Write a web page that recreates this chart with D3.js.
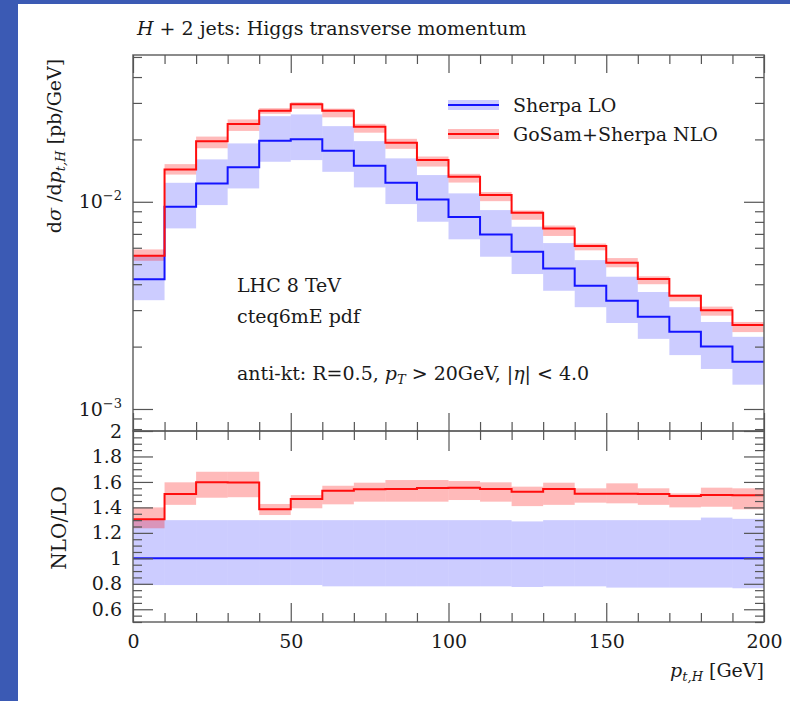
<!DOCTYPE html>
<html>
<head>
<meta charset="utf-8">
<script src="https://cdn.jsdelivr.net/npm/d3@7"></script>
<style>
  body { margin: 0; background: #fff; }
  svg text { font-family: "DejaVu Serif", serif; fill: #1a1a1a; }
</style>
</head>
<body>
<div id="chart"></div>
<script>
// bins of p_t,H [GeV]
const binLow  = [0, 10, 20, 30, 40, 50, 60, 70, 80, 90, 100, 110, 120, 130, 140, 150, 160, 170, 180, 190];
const binHigh = [10, 20, 30, 40, 50, 60, 70, 80, 90, 100, 110, 120, 130, 140, 150, 160, 170, 180, 190, 200];

// upper panel, dsigma/dpt [pb/GeV]
const loCentral  = [0.00423, 0.00946, 0.01227, 0.01466, 0.01968, 0.02006, 0.01762, 0.01492, 0.01235, 0.01027, 0.00844, 0.00696, 0.00574, 0.00477, 0.00393, 0.00333, 0.00279, 0.00236, 0.00200, 0.00169];
const loHigh     = [0.00550, 0.01235, 0.01602, 0.01913, 0.02590, 0.02640, 0.02318, 0.01962, 0.01620, 0.01346, 0.01098, 0.00912, 0.00758, 0.00632, 0.00523, 0.00435, 0.00367, 0.00310, 0.00263, 0.00223];
const loLow      = [0.00335, 0.00744, 0.00964, 0.01160, 0.01560, 0.01589, 0.01395, 0.01173, 0.00975, 0.00801, 0.00659, 0.00543, 0.00448, 0.00372, 0.00310, 0.00260, 0.00218, 0.00182, 0.00156, 0.00131];
const nloCentral = [0.00549, 0.01433, 0.01962, 0.02371, 0.02748, 0.02960, 0.02748, 0.02300, 0.01926, 0.01589, 0.01320, 0.01077, 0.00885, 0.00744, 0.00611, 0.00508, 0.00424, 0.00352, 0.00300, 0.00254];
const nloHigh    = [0.00589, 0.01520, 0.02064, 0.02497, 0.02831, 0.03022, 0.02817, 0.02378, 0.02013, 0.01654, 0.01364, 0.01114, 0.00908, 0.00768, 0.00629, 0.00535, 0.00437, 0.00357, 0.00312, 0.00263];
const nloLow     = [0.00519, 0.01353, 0.01813, 0.02198, 0.02659, 0.02812, 0.02556, 0.02155, 0.01801, 0.01479, 0.01238, 0.01007, 0.00819, 0.00684, 0.00583, 0.00483, 0.00400, 0.00331, 0.00282, 0.00235];

// lower panel, NLO/LO
const ratioLo      = [1, 1, 1, 1, 1, 1, 1, 1, 1, 1, 1, 1, 1, 1, 1, 1, 1, 1, 1, 1];
const ratioLoHigh  = [1.30, 1.30, 1.30, 1.30, 1.30, 1.30, 1.30, 1.30, 1.30, 1.30, 1.30, 1.30, 1.29, 1.30, 1.30, 1.30, 1.30, 1.30, 1.32, 1.31];
const ratioLoLow   = [0.79, 0.79, 0.79, 0.79, 0.79, 0.79, 0.78, 0.78, 0.78, 0.78, 0.78, 0.78, 0.775, 0.78, 0.78, 0.77, 0.77, 0.77, 0.77, 0.765];
const ratioNlo     = [1.306, 1.505, 1.597, 1.595, 1.385, 1.466, 1.531, 1.542, 1.545, 1.552, 1.555, 1.545, 1.523, 1.545, 1.507, 1.507, 1.505, 1.489, 1.497, 1.495];
const ratioNloHigh = [1.40, 1.597, 1.68, 1.68, 1.427, 1.497, 1.57, 1.594, 1.615, 1.615, 1.607, 1.597, 1.563, 1.594, 1.55, 1.589, 1.55, 1.51, 1.555, 1.55];
const ratioNloLow  = [1.236, 1.42, 1.476, 1.48, 1.34, 1.393, 1.424, 1.445, 1.445, 1.445, 1.458, 1.445, 1.41, 1.42, 1.437, 1.432, 1.42, 1.40, 1.405, 1.385];

// ticks
const xMajor = [0, 50, 100, 150, 200];
const xMajorLabels = ["0", "50", "100", "150", "200"];
const upperMajor = [1e-3, 1e-2];
const upperMajorExp = ["\u22123", "\u22122"];
const upperMinor = [8e-4, 9e-4, 2e-3, 3e-3, 4e-3, 5e-3, 6e-3, 7e-3, 8e-3, 9e-3, 2e-2, 3e-2, 4e-2, 5e-2];
const ratioMajor = [0.6, 0.8, 1, 1.2, 1.4, 1.6, 1.8, 2];
const ratioMajorLabels = ["0.6", "0.8", "1", "1.2", "1.4", "1.6", "1.8", "2"];

const blue = "#1414ff", red = "#ff0d0d";
const blueBand = "rgba(0,0,255,0.2)", redBand = "rgba(255,0,0,0.27)";

const pLeft = 133, pRight = 764, pTop = 55, pMid = 431, pBottom = 622;

const svg = d3.select("#chart").append("svg")
  .attr("width", 790)
  .attr("height", 701);

svg.append("rect").attr("width", 790).attr("height", 701).attr("fill", "#fff");
svg.append("rect").attr("width", 18).attr("height", 701).attr("fill", "#3b5ab4");
svg.append("rect").attr("width", 790).attr("height", 4).attr("fill", "#3b5ab4");

const x = d3.scaleLinear().domain([0, 200]).range([pLeft, pRight]);
const yUp = d3.scaleLog().domain([7.83e-4, 0.0511]).range([pMid, pTop]);
const yRat = d3.scaleLinear().domain([0.5, 2]).range([pBottom, pMid]);

const bins = binLow.map((lo, i) => ({
  lo: lo, hi: binHigh[i],
  lo_c: loCentral[i], lo_h: loHigh[i], lo_l: loLow[i],
  nlo_c: nloCentral[i], nlo_h: nloHigh[i], nlo_l: nloLow[i],
  r_lo: ratioLo[i], r_lo_h: ratioLoHigh[i], r_lo_l: ratioLoLow[i],
  r_nlo: ratioNlo[i], r_nlo_h: ratioNloHigh[i], r_nlo_l: ratioNloLow[i]
}));

function bands(yScale, hiKey, loKey, fill) {
  svg.append("g").selectAll("rect")
    .data(bins)
    .enter()
    .append("rect")
    .attr("x", d => x(d.lo))
    .attr("width", d => x(d.hi) - x(d.lo))
    .attr("y", d => yScale(d[hiKey]))
    .attr("height", d => yScale(d[loKey]) - yScale(d[hiKey]))
    .attr("fill", fill);
}

function steps(yScale, key, color) {
  const pts = [];
  bins.forEach(d => { pts.push([d.lo, d[key]]); pts.push([d.hi, d[key]]); });
  svg.append("path")
    .attr("d", d3.line().x(p => x(p[0])).y(p => yScale(p[1]))(pts))
    .attr("fill", "none")
    .attr("stroke", color)
    .attr("stroke-width", 2);
}

// upper panel
bands(yUp, "lo_h", "lo_l", blueBand);
bands(yUp, "nlo_h", "nlo_l", redBand);
steps(yUp, "lo_c", blue);
steps(yUp, "nlo_c", red);

// lower panel
bands(yRat, "r_lo_h", "r_lo_l", blueBand);
bands(yRat, "r_nlo_h", "r_nlo_l", redBand);
steps(yRat, "r_lo", blue);
steps(yRat, "r_nlo", red);

// frames
svg.append("rect").attr("x", pLeft).attr("y", pTop).attr("width", pRight - pLeft).attr("height", pMid - pTop)
  .attr("fill", "none").attr("stroke", "#666").attr("stroke-width", 1.5);
svg.append("rect").attr("x", pLeft).attr("y", pMid).attr("width", pRight - pLeft).attr("height", pBottom - pMid)
  .attr("fill", "none").attr("stroke", "#666").attr("stroke-width", 1.5);

const tickStyle = g => {
  g.select(".domain").remove();
  g.selectAll(".tick line").attr("stroke", "#555").attr("stroke-width", 1.2);
};

const xMinor = x.ticks(20).filter(v => !xMajor.includes(v));

// x ticks on all horizontal borders
function xTicks(axisFn, y, minorLen, majorLen) {
  svg.append("g").attr("transform", `translate(0,${y})`)
    .call(axisFn(x).tickValues(xMinor).tickSize(minorLen).tickFormat(""))
    .call(tickStyle);
  svg.append("g").attr("transform", `translate(0,${y})`)
    .call(axisFn(x).tickValues(xMajor).tickSize(majorLen).tickFormat(""))
    .call(tickStyle);
}
xTicks(d3.axisTop, pTop, -9, -18);
xTicks(d3.axisBottom, pMid, -9, -18);
xTicks(d3.axisTop, pMid, -9, -20);

svg.append("g").attr("transform", `translate(0,${pBottom})`)
  .call(d3.axisBottom(x).tickValues(xMinor).tickSize(-9).tickFormat(""))
  .call(tickStyle);
svg.append("g").attr("transform", `translate(0,${pBottom})`)
  .call(d3.axisBottom(x).tickValues(xMajor).tickSize(-19).tickPadding(13)
    .tickFormat((d, i) => xMajorLabels[i]))
  .call(tickStyle)
  .call(g => g.selectAll("text").attr("font-size", 19).attr("fill", "#1a1a1a"));

// upper y ticks
svg.append("g").attr("transform", `translate(${pLeft},0)`)
  .call(d3.axisLeft(yUp).tickValues(upperMinor).tickSize(-9).tickFormat(""))
  .call(tickStyle);
svg.append("g").attr("transform", `translate(${pRight},0)`)
  .call(d3.axisRight(yUp).tickValues(upperMinor).tickSize(-9).tickFormat(""))
  .call(tickStyle);
svg.append("g").attr("transform", `translate(${pRight},0)`)
  .call(d3.axisRight(yUp).tickValues(upperMajor).tickSize(-20).tickFormat(""))
  .call(tickStyle);
svg.append("g").attr("transform", `translate(${pLeft},0)`)
  .call(d3.axisLeft(yUp).tickValues(upperMajor).tickSize(-20).tickPadding(11).tickFormat(""))
  .call(tickStyle)
  .call(g => g.selectAll(".tick text").each(function(d, i) {
    const t = d3.select(this).attr("font-size", 19).attr("fill", "#1a1a1a").attr("dy", "0.32em");
    t.append("tspan").text("10");
    t.append("tspan").attr("dy", -8).attr("font-size", 13).text(upperMajorExp[i]);
  }));

// ratio y ticks
const ratioMinor = yRat.ticks(30).filter(v => !ratioMajor.some(m => Math.abs(m - v) < 1e-6));
svg.append("g").attr("transform", `translate(${pLeft},0)`)
  .call(d3.axisLeft(yRat).tickValues(ratioMinor).tickSize(-9).tickFormat(""))
  .call(tickStyle);
svg.append("g").attr("transform", `translate(${pRight},0)`)
  .call(d3.axisRight(yRat).tickValues(ratioMinor).tickSize(-9).tickFormat(""))
  .call(tickStyle);
svg.append("g").attr("transform", `translate(${pRight},0)`)
  .call(d3.axisRight(yRat).tickValues(ratioMajor).tickSize(-20).tickFormat(""))
  .call(tickStyle);
svg.append("g").attr("transform", `translate(${pLeft},0)`)
  .call(d3.axisLeft(yRat).tickValues(ratioMajor).tickSize(-20).tickPadding(11)
    .tickFormat((d, i) => ratioMajorLabels[i]))
  .call(tickStyle)
  .call(g => g.selectAll("text").attr("font-size", 19).attr("fill", "#1a1a1a"));

// title
const title = svg.append("text").attr("x", 137).attr("y", 35).attr("font-size", 19);
title.append("tspan").attr("font-style", "italic").text("H");
title.append("tspan").text(" + 2 jets: Higgs transverse momentum");

// y labels
const yl = svg.append("text")
  .attr("transform", "translate(61,146) rotate(-90)")
  .attr("text-anchor", "middle")
  .attr("font-size", 19);
yl.append("tspan").text("d");
yl.append("tspan").attr("font-style", "italic").text("\u03c3");
yl.append("tspan").text(" /d");
yl.append("tspan").attr("font-style", "italic").text("p");
yl.append("tspan").attr("font-style", "italic").attr("font-size", 13).attr("dy", 4).text("t,H");
yl.append("tspan").attr("dy", -4).text(" [pb/GeV]");

svg.append("text")
  .attr("transform", "translate(66,528) rotate(-90)")
  .attr("text-anchor", "middle")
  .attr("font-size", 20)
  .text("NLO/LO");

// x label
const xl = svg.append("text").attr("x", pRight).attr("y", 677).attr("text-anchor", "end").attr("font-size", 19);
xl.append("tspan").attr("font-style", "italic").text("p");
xl.append("tspan").attr("font-style", "italic").attr("font-size", 13).attr("dy", 4).text("t,H");
xl.append("tspan").attr("dy", -4).text(" [GeV]");

// annotations
svg.append("text").attr("x", 237).attr("y", 292).attr("font-size", 19).text("LHC 8 TeV");
svg.append("text").attr("x", 237).attr("y", 323).attr("font-size", 19).text("cteq6mE pdf");
const cut = svg.append("text").attr("x", 237).attr("y", 380).attr("font-size", 19);
cut.append("tspan").text("anti-kt: R=0.5, ");
cut.append("tspan").attr("font-style", "italic").text("p");
cut.append("tspan").attr("font-style", "italic").attr("font-size", 13).attr("dy", 4).text("T");
cut.append("tspan").attr("dy", -4).text(" > 20GeV, |");
cut.append("tspan").attr("font-style", "italic").text("\u03b7");
cut.append("tspan").text("| < 4.0");

// legend
const legendItems = [
  { name: "Sherpa LO", color: blue, band: blueBand, y: 105 },
  { name: "GoSam+Sherpa NLO", color: red, band: redBand, y: 134 }
];
const lg = svg.append("g").selectAll("g").data(legendItems).enter().append("g");
lg.append("rect").attr("x", 448).attr("y", d => d.y - 5).attr("width", 51).attr("height", 10).attr("fill", d => d.band);
lg.append("line").attr("x1", 448).attr("x2", 499).attr("y1", d => d.y).attr("y2", d => d.y)
  .attr("stroke", d => d.color).attr("stroke-width", 2);
lg.append("text").attr("x", 513).attr("y", d => d.y + 7).attr("font-size", 19).text(d => d.name);
</script>
</body>
</html>
